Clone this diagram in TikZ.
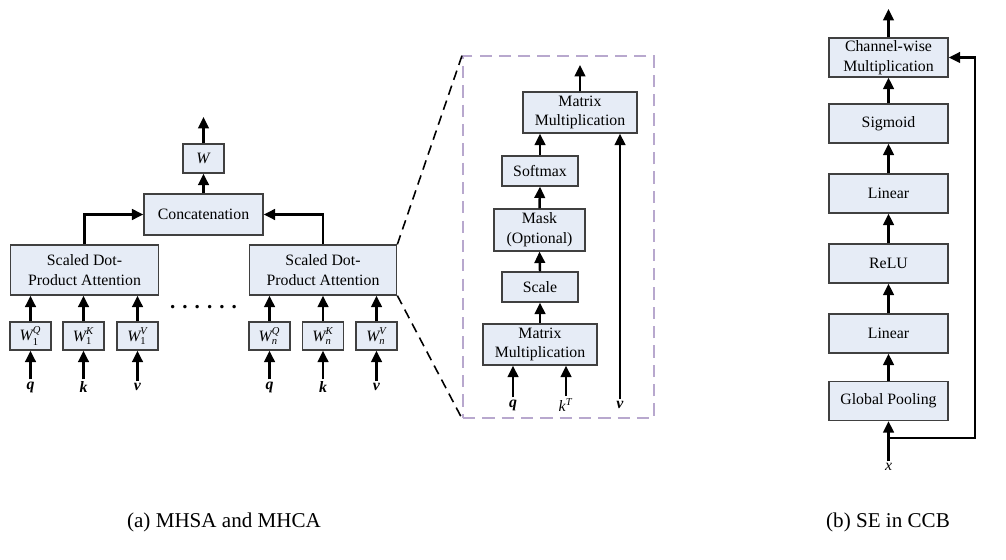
\documentclass[tikz,border=0pt]{standalone}
\usepackage{amsmath}
\usepackage{fontspec}
\setmainfont{Liberation Serif}
\usepackage{xcolor}
\usepackage{tikz}
\usetikzlibrary{arrows.meta, calc, positioning}
\definecolor{boxfill}{HTML}{E6ECF6}
\definecolor{boxline}{HTML}{404040}
\definecolor{zoomline}{HTML}{B8A8CE}
\newcommand{\Wmat}[2]{$\textit{W}_{\textrm{#1}}^{\textit{#2}}$}
\newcommand{\invec}[1]{\textbf{\textit{#1}}}

\begin{document}
\begin{tikzpicture}[x=0.02cm, y=-0.02cm,
  blk/.style={draw=boxline, fill=boxfill, line width=0.7pt, align=center,
    inner sep=0pt, font=\fontsize{9}{11.3}\selectfont},
  wbox/.style={blk, minimum width=0.82cm, minimum height=0.56cm},
  lbl/.style={inner sep=1pt, font=\fontsize{9}{10}\selectfont},
  arr/.style={-{Triangle[length=6.5pt, width=6pt]}, line width=1.4pt},
  zoomcut/.style={dash pattern=on 5.5pt off 3.5pt, line width=0.9pt}
]
\useasboundingbox (0,0) rectangle (1006,560);
% --- (a) multi-head attention ---
\node[blk, minimum width=2.38cm, minimum height=0.82cm] (concat) at (203.5,214.5) {Concatenation};
\node[blk, minimum width=0.82cm, minimum height=0.58cm] (W) at (203.5,158.5) {\textit{W}};
\coordinate (outA) at (203.5,117);
\node[blk, minimum width=2.95cm, minimum height=1cm] (sdpa1) at (84.5,270) {Scaled Dot-\\Product Attention};
\node[blk, minimum width=2.95cm, minimum height=1cm] (sdpan) at (323,270) {Scaled Dot-\\Product Attention};
\node[wbox] (w1q) at (30.5,336) {\Wmat{1}{Q}};
\node[wbox] (w1k) at (83.5,336) {\Wmat{1}{K}};
\node[wbox] (w1v) at (137.5,336) {\Wmat{1}{V}};
\node[wbox] (wnq) at (269.5,336) {\Wmat{\textit{n}}{Q}};
\node[wbox] (wnk) at (323,336) {\Wmat{\textit{n}}{K}};
\node[wbox] (wnv) at (376.5,336) {\Wmat{\textit{n}}{V}};
\node[lbl] (q1) at (30.5,387) {\invec{q}};
\node[lbl] (k1) at (83.5,387) {\invec{k}};
\node[lbl] (v1) at (137.5,387) {\invec{v}};
\node[lbl] (qn) at (269.5,387) {\invec{q}};
\node[lbl] (kn) at (323,387) {\invec{k}};
\node[lbl] (vn) at (376.5,387) {\invec{v}};
\node[inner sep=0pt, font=\bfseries\fontsize{12}{12}\selectfont] (dots) at (203.5,307) {. . . . . .};
\foreach \i/\w in {q1/w1q, k1/w1k, v1/w1v, qn/wnq, kn/wnk, vn/wnv}{
  \draw[arr] (\i.north) -- (\w.south);
}
\foreach \w/\s in {w1q/sdpa1, w1k/sdpa1, w1v/sdpa1, wnq/sdpan, wnk/sdpan, wnv/sdpan}{
  \draw[arr] (\w.north) -- (\w.north |- \s.south);
}
\draw[arr] (sdpa1.north) |- (concat.west);
\draw[arr] (sdpan.north) |- (concat.east);
\draw[arr] (concat.north) -- (W.south);
\draw[arr] (W.north) -- (outA);
% --- zoomed attention head ---
\node[draw=zoomline, line width=1pt, dash pattern=on 7pt off 4pt,
  minimum width=3.82cm, minimum height=7.24cm, inner sep=0pt] (zoom) at (558.5,237) {};
\draw[zoomcut] (sdpan.north east) -- (zoom.north west);
\draw[zoomcut] (sdpan.south east) -- (zoom.south west);
\node[blk, minimum width=2.28cm, minimum height=0.82cm] (mm2) at (580,112.5) {Matrix\\Multiplication};
\node[blk, minimum width=1.52cm, minimum height=0.6cm] (softmax) at (540,171) {Softmax};
\node[blk, minimum width=1.82cm, minimum height=0.84cm] (mask) at (539.5,230) {Mask\\(Optional)};
\node[blk, minimum width=1.52cm, minimum height=0.6cm] (scale) at (540,287) {Scale};
\node[blk, minimum width=2.28cm, minimum height=0.82cm] (mm1) at (540,344.5) {Matrix\\Multiplication};
\node[lbl] (qz) at (513,405) {\invec{q}};
\node[lbl] (kz) at (566,405) {\textit{k}\textsuperscript{\textit{T}}};
\node[lbl] (vz) at (620,405) {\invec{v}};
\coordinate (outZ) at (580,65);
\draw[arr] (qz.north) -- (qz.north |- mm1.south);
\draw[arr] (kz.north) -- (kz.north |- mm1.south);
\draw[arr] (mm1.north) -- (scale.south);
\draw[arr] (scale.north) -- (mask.south);
\draw[arr] (mask.north) -- (softmax.south);
\draw[arr] (softmax.north) -- (softmax.north |- mm2.south);
\draw[arr] (vz.north) -- (vz.north |- mm2.south);
\draw[arr] (mm2.north) -- (outZ);
% --- (b) squeeze-and-excitation ---
\tikzset{seblk/.style={blk, minimum width=2.38cm, minimum height=0.78cm}}
\node[seblk] (cw) at (888.5,57.5) {Channel-wise\\Multiplication};
\node[seblk] (sig) at (888.5,123.5) {Sigmoid};
\node[seblk] (lin2) at (888.5,193.5) {Linear};
\node[seblk] (relu) at (888.5,263.5) {ReLU};
\node[seblk] (lin1) at (888.5,333.5) {Linear};
\node[seblk] (gp) at (888.5,401) {Global Pooling};
\node[lbl] (xin) at (888.5,467) {\textit{x}};
\coordinate (split) at (888.5,438);
\coordinate (skip) at (975,57.5);
\coordinate (outB) at (888.5,9);
\draw[arr] (xin.north) -- (gp.south);
\draw[arr, line join=miter] (split) -| (skip) -- (cw.east);
\draw[arr] (gp.north) -- (lin1.south);
\draw[arr] (lin1.north) -- (relu.south);
\draw[arr] (relu.north) -- (lin2.south);
\draw[arr] (lin2.north) -- (sig.south);
\draw[arr] (sig.north) -- (cw.south);
\draw[arr] (cw.north) -- (outB);
% --- captions ---
\node[font=\fontsize{12}{14}\selectfont] (capA) at (224,522) {(a) MHSA and MHCA};
\node[font=\fontsize{12}{14}\selectfont] (capB) at (888,522) {(b) SE in CCB};
\end{tikzpicture}
\end{document}
